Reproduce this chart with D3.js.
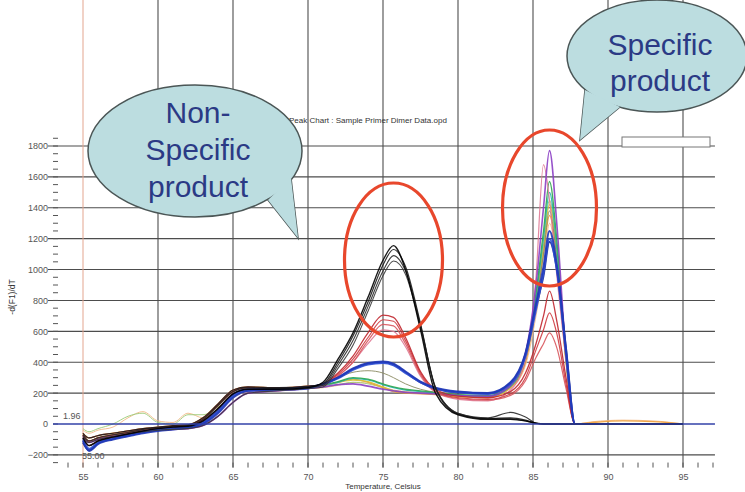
<!DOCTYPE html>
<html>
<head>
<meta charset="utf-8">
<script src="https://cdn.jsdelivr.net/npm/d3@7"></script>
<style>
  body { margin: 0; background: #fff; }
  svg { display: block; font-family: "Liberation Sans", Arial, sans-serif; }
</style>
</head>
<body>
<svg id="chart" width="745" height="492"></svg>
<script>
// temperature points (Celsius) shared by every melt curve
var temps = [55, 55.4, 56, 57, 58, 59, 60, 61, 62, 63, 64, 65, 66, 68, 70,
  71, 72, 73, 74, 75, 75.7, 76.5, 77.5, 78.5, 80, 82, 83.5, 84.5, 85.2, 85.7, 86.1, 86.6, 87.2, 87.8, 89, 91, 93, 95];

// -d(F1)/dT values
var black1 = [-90,-140,-110,-85,-65,-45,-30,-20,-15,20,100,195,225,225,235, 270,420,590,820,1060,1155,1000,610,200,60,30,30,20,5,0,0,0,0,0,0,0,0,0];
var black2 = [-60,-90,-75,-60,-45,-30,-20,-10,-5,40,130,220,240,235,245, 260,400,570,790,1030,1130,1020,650,230,65,35,40,25,5,0,0,0,0,0,0,0,0,0];
var black3 = [-70,-110,-90,-70,-55,-35,-25,-15,-10,30,120,210,235,230,240, 250,380,540,760,990,1090,990,640,240,70,40,75,45,5,0,0,0,0,0,0,0,0,0];
var black4 = [-80,-120,-100,-80,-65,-50,-40,-35,-30,-10,50,140,200,215,230, 240,360,510,730,960,1055,970,630,235,70,35,35,20,5,0,0,0,0,0,0,0,0,0];

var red1 = [-70,-110,-90,-70,-55,-35,-25,-15,-10,30,120,210,235,230,240, 260,330,440,590,705,690,560,340,225,180,170,210,330,520,700,860,660,300,0,0,0,0,0];
var red2 = [-90,-140,-110,-85,-65,-45,-30,-20,-15,20,100,195,225,225,235, 255,320,420,560,675,665,540,330,215,170,160,195,300,480,610,720,580,260,0,0,0,0,0];
var red3 = [-60,-90,-75,-60,-45,-30,-20,-10,-5,40,130,220,240,235,245, 250,310,400,540,645,635,520,320,210,165,155,185,280,430,520,590,490,230,0,0,0,0,0];
var pink1 = [-80,-120,-100,-80,-65,-50,-40,-35,-30,-10,50,140,200,215,230, 250,310,400,520,610,600,500,310,205,160,150,220,420,950,1680,1450,950,420,0,0,0,0,0];

var blue1 = [-110,-175,-130,-100,-80,-60,-45,-35,-25,0,70,170,215,225,235, 260,300,360,395,405,390,340,275,235,210,200,270,460,780,1020,1250,1020,480,0,0,0,0,0];
var blue2 = [-100,-160,-120,-95,-75,-55,-40,-30,-20,5,80,180,215,220,230, 255,295,350,385,395,380,330,270,230,205,195,260,440,740,980,1200,990,460,0,0,0,0,0];
var navy1 = [-120,-170,-125,-95,-70,-50,-35,-25,-20,10,90,190,225,230,240, 260,300,355,390,400,385,335,270,230,205,198,265,450,760,960,1180,1000,490,0,0,0,0,0];

var green1 = [-70,-110,-90,-70,-55,-35,-25,-15,-10,30,120,210,235,230,240, 255,275,300,290,260,240,225,215,205,190,185,250,450,850,1250,1570,1180,440,0,0,0,0,0];
var teal1 = [-90,-140,-110,-85,-65,-45,-30,-20,-15,20,100,195,225,225,235, 250,270,295,285,255,235,220,210,200,185,180,245,440,820,1200,1500,1120,420,0,0,0,0,0];
var purple1 = [-80,-120,-100,-80,-65,-50,-40,-35,-30,-10,50,140,200,215,230, 240,255,260,245,225,215,205,200,195,185,180,250,460,900,1400,1770,1280,450,0,0,0,0,0];
var yellow1 = [-60,-90,-75,-60,-45,-30,-20,-10,-5,40,130,220,240,235,245, 250,270,285,275,240,215,205,200,195,180,175,240,420,800,1150,1420,1100,420,0,0,0,0,0];
var orange1 = [-70,-110,-90,-70,-55,-35,-25,-15,-10,30,120,210,235,230,240, 250,270,290,270,235,210,200,195,190,175,170,235,400,760,1100,1350,1070,400,0,10,20,15,0];
var olive1 = [-90,-140,-110,-85,-65,-45,-30,-20,-15,20,100,195,225,225,235, 260,300,335,345,330,300,260,225,205,185,180,240,410,780,1100,1380,1050,420,0,0,0,0,0];
var peach1 = [-40,-60,-40,-20,40,80,20,10,70,40,90,170,210,220,230, 235,250,270,265,240,220,210,200,195,180,175,230,380,700,1000,1300,1020,400,0,15,25,20,0];
var lime1 = [-30,-50,-30,0,50,70,10,0,60,60,110,180,215,225,235, 240,255,270,260,235,215,205,200,195,180,175,240,420,800,1150,1450,1100,420,0,0,0,0,0];

var series = [
  {name: "peach", values: peach1, color: "#f2b987", width: 1},
  {name: "lime", values: lime1, color: "#9ccb78", width: 1},
  {name: "orange", values: orange1, color: "#ee9f3a", width: 1.3},
  {name: "yellow", values: yellow1, color: "#d7c238", width: 1.3},
  {name: "olive", values: olive1, color: "#8a8a60", width: 1},
  {name: "teal", values: teal1, color: "#22b0b0", width: 1.3},
  {name: "green", values: green1, color: "#2ea64c", width: 1.3},
  {name: "pink", values: pink1, color: "#e07a95", width: 1.2},
  {name: "purple", values: purple1, color: "#8b3fc4", width: 1.6},
  {name: "red3", values: red3, color: "#d8575d", width: 1.2},
  {name: "red2", values: red2, color: "#cf3b40", width: 1.2},
  {name: "red1", values: red1, color: "#c0262e", width: 1.3},
  {name: "navy", values: navy1, color: "#1b2a8f", width: 2},
  {name: "blue2", values: blue2, color: "#2e4fd4", width: 2},
  {name: "blue1", values: blue1, color: "#2038b8", width: 2},
  {name: "black4", values: black4, color: "#3a3a3a", width: 1.1},
  {name: "black3", values: black3, color: "#2a2a2a", width: 1.1},
  {name: "black2", values: black2, color: "#1a1a1a", width: 1.2},
  {name: "black1", values: black1, color: "#000000", width: 1.4}
];

var xMajor = [55, 60, 65, 70, 75, 80, 85, 90, 95];
var yMajor = [-200, 0, 200, 400, 600, 800, 1000, 1200, 1400, 1600, 1800];

var svg = d3.select("#chart");

var x = d3.scaleLinear().domain([55, 95]).range([83, 683]);
var y = d3.scaleLinear().domain([0, 1800]).range([424, 146]);

var left = x(53), right = x(97.13), top = y(1900), bottom = y(-282);

// faint band + marker line at 55
svg.append("rect")
  .attr("x", left).attr("y", top)
  .attr("width", x(55) - left).attr("height", bottom - top)
  .attr("fill", "#f7f3f2");

// grid
svg.append("g").selectAll("line")
  .data(yMajor)
  .enter().append("line")
  .attr("x1", left - 5).attr("x2", right)
  .attr("y1", function(d) { return y(d); })
  .attr("y2", function(d) { return y(d); })
  .attr("stroke", function(d) { return d == 0 ? "none" : "#4d4d4d"; })
  .attr("stroke-width", 1.1);

svg.append("g").selectAll("line")
  .data(xMajor.slice(1))
  .enter().append("line")
  .attr("x1", function(d) { return x(d); })
  .attr("x2", function(d) { return x(d); })
  .attr("y1", top).attr("y2", bottom)
  .attr("stroke", "#4d4d4d")
  .attr("stroke-width", 1.1);

svg.append("line")
  .attr("x1", x(55)).attr("x2", x(55))
  .attr("y1", top).attr("y2", bottom)
  .attr("stroke", "#e3a58f").attr("stroke-width", 1);

// minor ticks
svg.append("g").selectAll("line")
  .data(d3.range(-250, 1900, 50))
  .enter().append("line")
  .attr("x1", left).attr("x2", left + 5)
  .attr("y1", function(d) { return y(d); })
  .attr("y2", function(d) { return y(d); })
  .attr("stroke", "#555");

svg.append("g").selectAll("line")
  .data(d3.range(54, 98, 1))
  .enter().append("line")
  .attr("x1", function(d) { return x(d); })
  .attr("x2", function(d) { return x(d); })
  .attr("y1", bottom).attr("y2", bottom - 5)
  .attr("stroke", "#555");

// frame
svg.append("rect")
  .attr("x", left).attr("y", top)
  .attr("width", right - left).attr("height", bottom - top)
  .attr("fill", "none").attr("stroke", "#555").attr("stroke-width", 1.1);

// axis labels via d3 axes
var xAxis = d3.axisBottom(x).tickValues(xMajor).tickSize(0).tickPadding(6).tickFormat(d3.format("d"));
var gx = svg.append("g").attr("transform", "translate(0," + bottom + ")").call(xAxis);
gx.select(".domain").remove();
gx.selectAll("text").attr("font-size", 9).attr("fill", "#555").attr("font-family", "Liberation Sans, Arial, sans-serif");

var yAxis = d3.axisLeft(y).tickValues(yMajor).tickSize(0).tickPadding(5).tickFormat(d3.format("d"));
var gy = svg.append("g").attr("transform", "translate(" + (left) + ",0)").call(yAxis);
gy.select(".domain").remove();
gy.selectAll("text").attr("font-size", 9).attr("fill", "#555").attr("font-family", "Liberation Sans, Arial, sans-serif");

// curves
var line = d3.line()
  .x(function(d) { return x(d[0]); })
  .y(function(d) { return y(d[1]); })
  .curve(d3.curveMonotoneX);

svg.append("g").selectAll("path")
  .data(series)
  .enter().append("path")
  .attr("d", function(s) { return line(temps.map(function(t, i) { return [t, s.values[i]]; })); })
  .attr("fill", "none")
  .attr("stroke", function(s) { return s.color; })
  .attr("stroke-width", function(s) { return s.width; })
  .attr("stroke-opacity", 0.9);

// threshold line at 0
svg.append("line")
  .attr("x1", left).attr("x2", right)
  .attr("y1", y(0)).attr("y2", y(0))
  .attr("stroke", "#3342a8").attr("stroke-width", 1.4);

svg.append("text").attr("x", 63).attr("y", y(0) - 5)
  .attr("font-size", 9).attr("fill", "#555").text("1.96");
svg.append("text").attr("x", 82).attr("y", y(-200) + 4)
  .attr("font-size", 9).attr("fill", "#555").text("55.00");

// titles
svg.append("text").attr("x", 289).attr("y", 123)
  .attr("font-size", 8).attr("fill", "#333")
  .text("Peak Chart : Sample Primer Dimer Data.opd");

svg.append("text").attr("x", x(75)).attr("y", 489)
  .attr("text-anchor", "middle").attr("font-size", 8).attr("fill", "#333")
  .text("Temperature, Celsius");

svg.append("text")
  .attr("transform", "translate(15," + 297 + ") rotate(-90)")
  .attr("text-anchor", "middle").attr("font-size", 8.5).attr("fill", "#333")
  .text("-d(F1)/dT");

// empty legend box
svg.append("rect")
  .attr("x", 622).attr("y", 137).attr("width", 88).attr("height", 10)
  .attr("fill", "#fff").attr("stroke", "#777");

// red highlight ellipses
svg.append("ellipse")
  .attr("cx", x(75.7)).attr("cy", 260).attr("rx", 49).attr("ry", 77)
  .attr("fill", "none").attr("stroke", "#e8472c").attr("stroke-width", 3.2);
svg.append("ellipse")
  .attr("cx", x(86.1)).attr("cy", 208).attr("rx", 47).attr("ry", 78)
  .attr("fill", "none").attr("stroke", "#e8472c").attr("stroke-width", 3.2);

// speech bubbles
function bubble(cx, cy, rx, ry, tail, lines, y0, lh) {
  var g = svg.append("g");
  var fill = "#bcdde0", edge = "#4b5656";
  g.append("polygon").attr("points", tail.join(" "))
    .attr("fill", fill).attr("stroke", edge).attr("stroke-width", 1.5).attr("stroke-linejoin", "miter");
  g.append("ellipse").attr("cx", cx).attr("cy", cy).attr("rx", rx).attr("ry", ry)
    .attr("fill", fill).attr("stroke", edge).attr("stroke-width", 1.5);
  g.append("polygon").attr("points", tail.join(" ")).attr("fill", fill);
  g.selectAll("text").data(lines).enter().append("text")
    .attr("x", cx + 3).attr("y", function(d, i) { return y0 + i * lh; })
    .attr("text-anchor", "middle")
    .attr("font-size", 30).attr("fill", "#2b3a85")
    .text(function(d) { return d; });
}

bubble(195, 151, 107, 66, [[268, 200], [298, 238], [291, 178]], ["Non-", "Specific", "product"], 123, 37);
bubble(657, 56, 90, 56, [[585, 90], [580, 140], [620, 107]], ["Specific", "product"], 55, 36);
</script>
</body>
</html>
